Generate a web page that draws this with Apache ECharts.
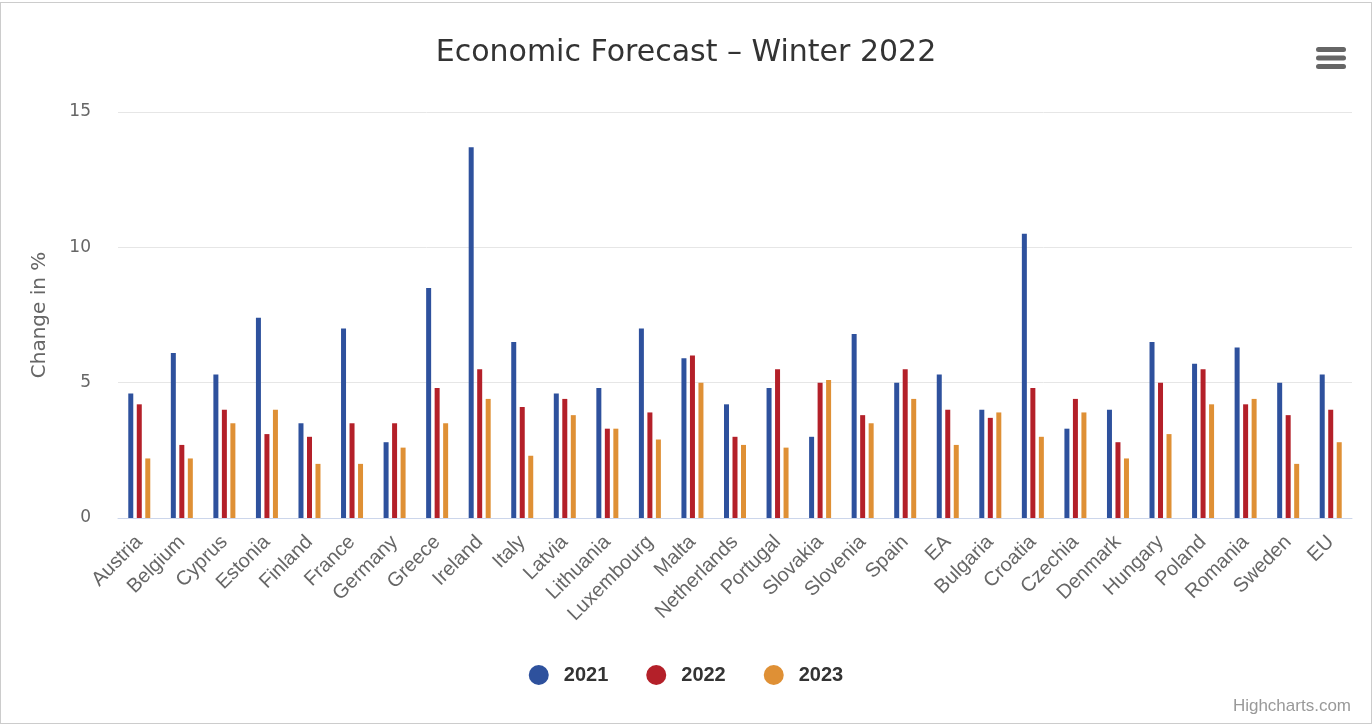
<!DOCTYPE html>
<html>
<head>
<meta charset="utf-8">
<script src="https://cdn.jsdelivr.net/npm/echarts@6/dist/echarts.min.js"></script>
<style>
  html, body { margin: 0; padding: 0; background: #fff; }
  #chart { width: 1370px; height: 720px; border: 1px solid #ccc; margin-top: 2px; }
</style>
</head>
<body>
<div id="chart"></div>
<script>
// countries / aggregates on the x axis
const categories = ['Austria', 'Belgium', 'Cyprus', 'Estonia', 'Finland', 'France', 'Germany', 'Greece',
  'Ireland', 'Italy', 'Latvia', 'Lithuania', 'Luxembourg', 'Malta', 'Netherlands', 'Portugal',
  'Slovakia', 'Slovenia', 'Spain', 'EA', 'Bulgaria', 'Croatia', 'Czechia', 'Denmark', 'Hungary',
  'Poland', 'Romania', 'Sweden', 'EU'];

// change in % per year
const values2021 = [4.6, 6.1, 5.3, 7.4, 3.5, 7.0, 2.8, 8.5, 13.7, 6.5, 4.6, 4.8, 7.0, 5.9, 4.2, 4.8,
  3.0, 6.8, 5.0, 5.3, 4.0, 10.5, 3.3, 4.0, 6.5, 5.7, 6.3, 5.0, 5.3];
const values2022 = [4.2, 2.7, 4.0, 3.1, 3.0, 3.5, 3.5, 4.8, 5.5, 4.1, 4.4, 3.3, 3.9, 6.0, 3.0, 5.5,
  5.0, 3.8, 5.5, 4.0, 3.7, 4.8, 4.4, 2.8, 5.0, 5.5, 4.2, 3.8, 4.0];
const values2023 = [2.2, 2.2, 3.5, 4.0, 2.0, 2.0, 2.6, 3.5, 4.4, 2.3, 3.8, 3.3, 2.9, 5.0, 2.7, 2.6,
  5.1, 3.5, 4.4, 2.7, 3.9, 3.0, 3.9, 2.2, 3.1, 4.2, 4.4, 2.0, 2.8];

const seriesNames = ['2021', '2022', '2023'];
const yTicks = [0, 5, 10, 15];

const colors = ['#2e519d', '#b42029', '#df9035'];

const chart = echarts.init(document.getElementById('chart'));

const makeBar = (name, data) => ({
  name: name,
  type: 'bar',
  data: data,
  barWidth: 5,
  barGap: '70%',
  barCategoryGap: '40%'
});

const option = {
  animation: false,
  color: colors,
  title: {
    text: 'Economic Forecast \u2013 Winter 2022',
    left: 'center',
    top: 30,
    textStyle: {
      fontFamily: 'DejaVu Sans',
      fontSize: 30,
      fontWeight: 'normal',
      color: '#333'
    }
  },
  legend: {
    data: seriesNames,
    top: 662,
    left: 'center',
    padding: 0,
    icon: 'circle',
    itemWidth: 20,
    itemHeight: 20,
    itemGap: 38,
    textStyle: {
      fontFamily: 'Liberation Sans',
      fontSize: 20,
      fontWeight: 'bold',
      color: '#333',
      padding: [0, 0, 0, 10]
    }
  },
  grid: {
    left: 117,
    right: 19,
    top: 109,
    bottom: 205
  },
  xAxis: {
    type: 'category',
    data: categories,
    axisLine: { lineStyle: { color: '#ccd6eb' } },
    axisTick: { show: false },
    axisLabel: {
      rotate: 45,
      interval: 0,
      margin: 21,
      fontFamily: 'Liberation Sans',
      fontSize: 20,
      color: '#666'
    }
  },
  yAxis: {
    type: 'value',
    min: yTicks[0],
    max: yTicks[yTicks.length - 1],
    interval: 5,
    name: 'Change in %',
    nameLocation: 'middle',
    nameGap: 68,
    nameTextStyle: {
      fontFamily: 'DejaVu Sans',
      fontSize: 20,
      color: '#666'
    },
    axisLabel: {
      margin: 27,
      padding: [6, 0, 0, 0],
      fontFamily: 'DejaVu Sans',
      fontSize: 17,
      color: '#666'
    },
    splitLine: { lineStyle: { color: '#e6e6e6' } }
  },
  series: [
    makeBar(seriesNames[0], values2021),
    makeBar(seriesNames[1], values2022),
    makeBar(seriesNames[2], values2023)
  ],
  graphic: [
    // export menu icon (three bars)
    { type: 'rect', shape: { x: 1315, y: 44, width: 30, height: 5, r: 2.5 }, style: { fill: '#666' } },
    { type: 'rect', shape: { x: 1315, y: 52.5, width: 30, height: 5, r: 2.5 }, style: { fill: '#666' } },
    { type: 'rect', shape: { x: 1315, y: 61, width: 30, height: 5, r: 2.5 }, style: { fill: '#666' } },
    {
      type: 'text',
      right: 20,
      bottom: 8,
      style: {
        text: 'Highcharts.com',
        fontFamily: 'Liberation Sans',
        fontSize: 17,
        fill: '#999'
      }
    }
  ]
};

option && chart.setOption(option);
</script>
</body>
</html>
